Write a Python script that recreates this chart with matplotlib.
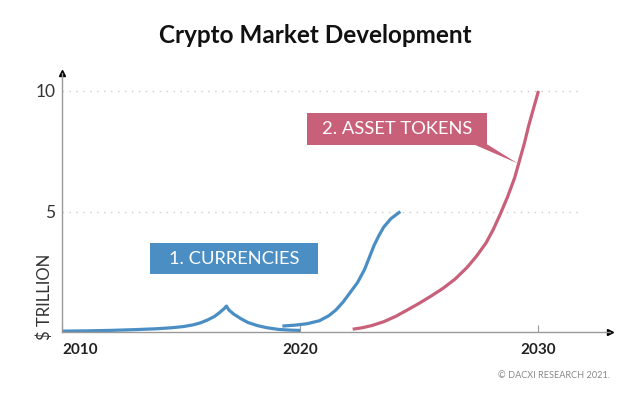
import matplotlib.pyplot as plt
from matplotlib.patches import Rectangle, Polygon

plt.rcParams["font.family"] = ["Lato", "DejaVu Sans"]

# blue curve, first wave (bubble with cusp ~2017)
currency_years_1 = [2010, 2011, 2012, 2013, 2014, 2014.6, 2015.1, 2015.5, 2015.8, 2016.1,
                    2016.4, 2016.6, 2016.8, 2016.9, 2017.0, 2017.2, 2017.5, 2017.8,
                    2018.2, 2018.6, 2019.1, 2019.6, 2020.0]
currency_vals_1 = [0.04, 0.05, 0.07, 0.1, 0.14, 0.18, 0.23, 0.3, 0.38, 0.5,
                   0.65, 0.8, 0.97, 1.08, 0.92, 0.75, 0.56, 0.4,
                   0.27, 0.18, 0.11, 0.08, 0.07]
# blue curve, second wave
currency_years_2 = [2019.25, 2019.8, 2020.3, 2020.8, 2021.2, 2021.5, 2021.8, 2022.1,
                    2022.4, 2022.7, 2022.9, 2023.1, 2023.3, 2023.5, 2023.8, 2024.2]
currency_vals_2 = [0.25, 0.29, 0.35, 0.47, 0.68, 0.92, 1.25, 1.65,
                   2.05, 2.6, 3.1, 3.6, 4.0, 4.35, 4.7, 5.0]
# red curve
token_years = [2022.2, 2022.6, 2023.0, 2023.5, 2024.0, 2024.5, 2025.0, 2025.5, 2026.0,
               2026.5, 2027.0, 2027.4, 2027.8, 2028.1, 2028.4, 2028.7, 2029.0,
               2029.2, 2029.4, 2029.6, 2029.8, 2030.0]
token_vals = [0.12, 0.18, 0.27, 0.43, 0.65, 0.92, 1.2, 1.5, 1.82,
              2.2, 2.68, 3.15, 3.7, 4.25, 4.9, 5.6, 6.4,
              7.1, 7.8, 8.6, 9.3, 10.0]

x_ticks = [2010, 2020, 2030]
y_ticks = [5, 10]

BLUE = "#4a8ec4"
RED = "#c9607a"
AXIS = "#999999"

fig = plt.figure(figsize=(6.4, 4.05), dpi=100)
ax = fig.add_axes([0.097, 0.180, 0.856, 0.640])
ax.set_xlim(2010, 2033)
ax.set_ylim(0, 10.75)

for s in ["top", "right"]:
    ax.spines[s].set_visible(False)
for s in ["left", "bottom"]:
    ax.spines[s].set_color(AXIS)
    ax.spines[s].set_linewidth(1)

# axis arrows
ax.plot(1, 0, ">", color="black", markersize=5, transform=ax.transAxes, clip_on=False)
ax.plot(0, 1, "^", color="black", markersize=5, transform=ax.transAxes, clip_on=False)

# dotted grid
ax.hlines(y_ticks, 2010, 2031.8, colors="#cccccc", linestyles=(0, (1, 4)), linewidth=1)

ax.set_xticks(x_ticks)
ax.set_xticklabels([str(y) for y in x_ticks], fontsize=11, fontweight="bold", color="#222222")
ax.get_xticklabels()[0].set_horizontalalignment("left")
ax.tick_params(axis="x", direction="in", length=5, color=AXIS, pad=8)
ax.set_yticks(y_ticks)
ax.set_yticklabels([str(v) for v in y_ticks], fontsize=12.5, color="#333333")
ax.tick_params(axis="y", length=0, pad=5)

ax.plot(currency_years_1, currency_vals_1, color=BLUE, lw=2.3, solid_capstyle="butt",
        solid_joinstyle="round")
ax.plot(currency_years_2, currency_vals_2, color=BLUE, lw=2.3, solid_capstyle="butt",
        solid_joinstyle="round")
ax.plot(token_years, token_vals, color=RED, lw=2.3, solid_capstyle="butt",
        solid_joinstyle="round")

# label boxes
ax.add_patch(Rectangle((2013.7, 2.41), 7.06, 1.28, facecolor=BLUE, edgecolor="none", zorder=4))
ax.text(2017.23, 3.05, "1. CURRENCIES", color="white", fontsize=13.2,
        ha="center", va="center", zorder=5)

ax.add_patch(Rectangle((2020.29, 7.76), 7.57, 1.33, facecolor=RED, edgecolor="none", zorder=4))
ax.add_patch(Polygon([(2027.3, 7.78), (2027.86, 7.78), (2029.12, 7.0)], closed=True,
                     facecolor=RED, edgecolor="none", zorder=4))
ax.text(2024.07, 8.42, "2. ASSET TOKENS", color="white", fontsize=13.2,
        ha="center", va="center", zorder=5)

fig.text(0.07, 0.267, "$ TRILLION", rotation=90, fontsize=12, color="#333333",
         ha="center", va="center")
fig.text(0.492, 0.912, "Crypto Market Development", fontsize=17.5, fontweight="bold",
         color="#111111", ha="center", va="center")
fig.text(0.953, 0.072, "© DACXI RESEARCH 2021.", fontsize=6.6, color="#888888",
         ha="right", va="center")

fig.savefig("out.png", dpi=100)
